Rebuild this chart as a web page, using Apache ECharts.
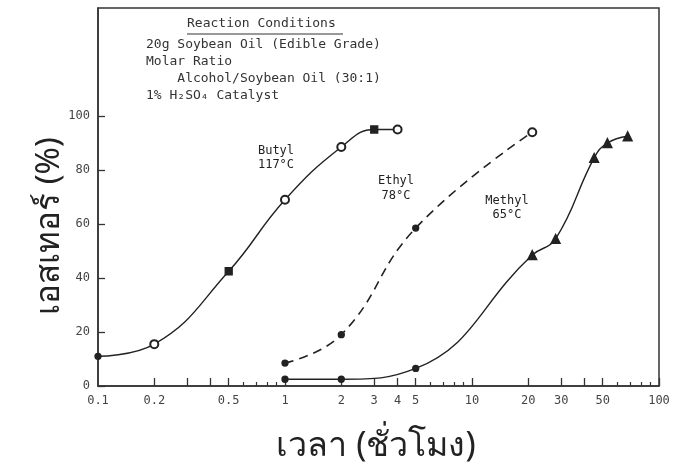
<!DOCTYPE html>
<html>
<head>
<meta charset="utf-8">
<script src="https://cdn.jsdelivr.net/npm/echarts@6/dist/echarts.min.js"></script>
<style>
  html, body { margin: 0; padding: 0; background: #fff; }
  #chart { width: 674px; height: 473px; }
</style>
</head>
<body>
<div id="chart"></div>
<script>
// reaction time (hours) and ester (%)
var butylTime = [0.1, 0.2, 0.5, 1, 2, 3, 4];
var butylEster = [11, 15.5, 42.5, 69, 88.5, 95, 95];
var butylMarker = ['dot', 'open', 'square', 'open', 'open', 'square', 'open'];

var ethylTime = [1, 2, 5, 21];
var ethylEster = [8.5, 19, 58.5, 94];
var ethylMarker = ['dot', 'dot', 'dot', 'open'];

var methylTime = [1, 2, 5, 21, 28, 45, 53, 68];
var methylEster = [2.5, 2.5, 6.5, 48.5, 54.5, 84.5, 90, 92.5];
var methylMarker = ['dot', 'dot', 'dot', 'tri', 'tri', 'tri', 'tri', 'tri'];

var xTickLabels = [0.1, 0.2, 0.5, 1, 2, 3, 4, 5, 10, 20, 30, 50, 100];
var xMajorTicks = [0.2, 0.3, 0.4, 0.5, 1, 2, 3, 4, 5, 10, 20, 30, 40, 50, 100];
var xMinorTicks = [0.6, 0.7, 0.8, 0.9, 6, 7, 8, 9, 60, 70, 80, 90];
var yTickLabels = [0, 20, 40, 60, 80, 100];

var conditions = [
    '20g Soybean Oil (Edible Grade)',
    'Molar Ratio',
    '    Alcohol/Soybean Oil (30:1)',
    '1% H\u2082SO\u2084 Catalyst'
];

var ink = '#222';
var mono = '"DejaVu Sans Mono", monospace';

function markerStyle(kind) {
    if (kind === 'open') return { symbol: 'emptyCircle', symbolSize: 8 };
    if (kind === 'square') return { symbol: 'rect', symbolSize: 7 };
    if (kind === 'tri') return { symbol: 'triangle', symbolSize: 9 };
    return { symbol: 'circle', symbolSize: 6 };
}

function buildData(times, values, markers) {
    return times.map(function (t, i) {
        var m = markerStyle(markers[i]);
        return { value: [t, values[i]], symbol: m.symbol, symbolSize: m.symbolSize };
    });
}

function fmt(v) {
    return String(+(+v).toPrecision(3));
}

function lineSeries(name, data, type, width) {
    return {
        name: name,
        type: 'line',
        xAxisIndex: 0,
        smooth: 0.45,
        showAllSymbol: true,
        data: data,
        lineStyle: { color: ink, width: width, type: type },
        itemStyle: { color: ink, borderColor: ink, borderWidth: 1.3 },
        emphasis: { disabled: true },
        z: 3
    };
}

var textLines = conditions.map(function (line, i) {
    return {
        type: 'text',
        x: 146,
        y: 45 + i * 17,
        style: { text: line, font: '13px ' + mono, fill: '#333', verticalAlign: 'middle' }
    };
});

var chart = echarts.init(document.getElementById('chart'));
chart.setOption({
    backgroundColor: '#fff',
    animation: false,
    grid: {
        left: 98, right: 15, top: 8, bottom: 87,
        show: true, borderColor: '#333', borderWidth: 1.5
    },
    xAxis: [
        {
            type: 'log',
            logBase: 10,
            min: 0.1,
            max: 100,
            axisLine: { lineStyle: { color: '#333', width: 1.5 } },
            axisTick: { inside: true, length: 8, customValues: xMajorTicks, lineStyle: { color: '#333', width: 1.3 } },
            axisLabel: {
                customValues: xTickLabels,
                formatter: fmt,
                color: '#444',
                fontFamily: mono,
                fontSize: 12,
                margin: 9
            },
            splitLine: { show: false }
        },
        {
            type: 'log',
            logBase: 10,
            min: 0.1,
            max: 100,
            position: 'bottom',
            axisLine: { show: false },
            axisTick: { inside: true, length: 4, customValues: xMinorTicks, lineStyle: { color: '#333', width: 1.2 } },
            axisLabel: { show: false },
            splitLine: { show: false }
        }
    ],
    yAxis: {
        type: 'value',
        min: 0,
        max: 140,
        interval: 20,
        axisLine: { show: true, lineStyle: { color: '#333', width: 1.5 } },
        axisTick: { show: true, inside: true, length: 7, customValues: yTickLabels, lineStyle: { color: '#333', width: 1.3 } },
        axisLabel: {
            customValues: yTickLabels,
            color: '#444',
            fontFamily: mono,
            fontSize: 12,
            margin: 8
        },
        splitLine: { show: false }
    },
    graphic: [
        {
            type: 'text',
            x: 187,
            y: 24,
            style: { text: 'Reaction Conditions', font: '13px ' + mono, fill: '#333', verticalAlign: 'middle' }
        },
        {
            type: 'line',
            shape: { x1: 187, y1: 34, x2: 343, y2: 34 },
            style: { stroke: '#333', lineWidth: 1 }
        }
    ].concat(textLines).concat([
        {
            type: 'text',
            x: 276, y: 158,
            style: { text: 'Butyl\n117°C', font: '12px ' + mono, fill: ink, align: 'center', verticalAlign: 'middle', lineHeight: 14 }
        },
        {
            type: 'text',
            x: 396, y: 188,
            style: { text: 'Ethyl\n78°C', font: '12px ' + mono, fill: ink, align: 'center', verticalAlign: 'middle', lineHeight: 15 }
        },
        {
            type: 'text',
            x: 507, y: 208,
            style: { text: 'Methyl\n65°C', font: '12px ' + mono, fill: ink, align: 'center', verticalAlign: 'middle', lineHeight: 14 }
        },
        {
            type: 'text',
            x: 50, y: 226,
            rotation: Math.PI / 2,
            style: { text: 'เอสเทอร์ (%)', font: '33px "Noto Sans", sans-serif', fill: ink, align: 'center', verticalAlign: 'middle' }
        },
        {
            type: 'text',
            x: 376, y: 446,
            style: { text: 'เวลา (ชั่วโมง)', font: '34px "Noto Sans", sans-serif', fill: ink, align: 'center', verticalAlign: 'middle' }
        }
    ]),
    series: [
        lineSeries('Butyl 117°C', buildData(butylTime, butylEster, butylMarker), 'solid', 1.4),
        lineSeries('Ethyl 78°C', buildData(ethylTime, ethylEster, ethylMarker), [9, 6], 1.6),
        lineSeries('Methyl 65°C', buildData(methylTime, methylEster, methylMarker), 'solid', 1.4)
    ]
});
</script>
</body>
</html>
